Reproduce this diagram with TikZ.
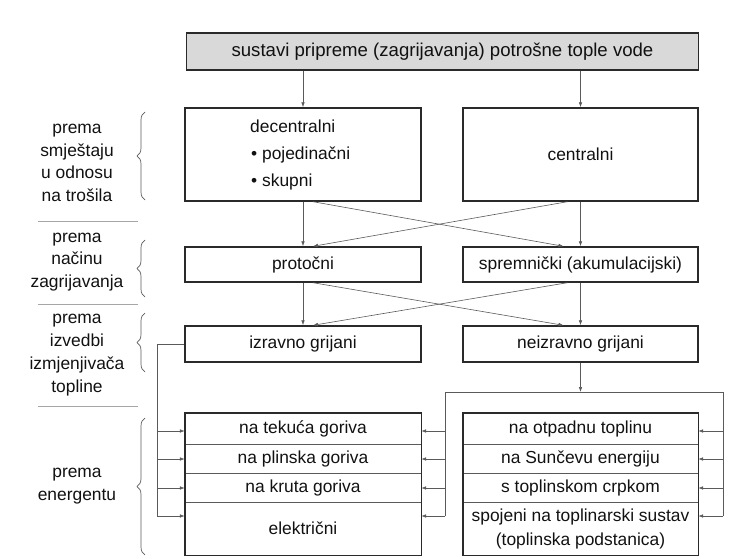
\documentclass[tikz,border=0pt]{standalone}
\usepackage{fontspec}
\setmainfont{Liberation Sans}
\usetikzlibrary{arrows.meta,calc,decorations.pathreplacing}
\definecolor{boxc}{HTML}{2A2A2A}
\definecolor{conc}{HTML}{5A5A5A}
\definecolor{topfill}{HTML}{D9D9D9}
\definecolor{txtc}{HTML}{111111}
\begin{document}
\begin{tikzpicture}[x=1pt,y=-1pt,
  txt/.style={inner sep=0pt, text=txtc, font=\fontsize{17.4}{22}\selectfont},
  box/.style={draw=boxc, line width=1.4pt, inner sep=0pt, text=txtc, font=\fontsize{17.4}{22}\selectfont, minimum width=236pt},
  rowbox/.style={inner sep=0pt, text=txtc, font=\fontsize{17.4}{22}\selectfont, minimum width=236pt, align=center},
  outer/.style={draw=boxc, line width=1.4pt},
  divider/.style={draw=conc, line width=0.6pt},
  conn/.style={draw=conc, line width=0.6pt},
  arr/.style={conn, -{Latex[length=5pt,width=3.6pt]}},
  sep/.style={draw=gray!70, line width=0.8pt},
  lab/.style={inner sep=0pt, text=txtc, align=center, font=\fontsize{17.4}{22.8}\selectfont},
  brc/.style={draw=conc, line width=0.7pt, decorate, decoration={brace, amplitude=8pt}}
]
\useasboundingbox (0,0) rectangle (747,559);

% top
\node[box, fill=topfill, minimum width=512pt, minimum height=37pt, font=\fontsize{18.6}{22}\selectfont] (top) at (442.5,51.5) {sustavi pripreme (zagrijavanja) potrošne tople vode};

% row 1
\node[box, minimum height=93pt] (dec) at (303,154.5) {};
\node[txt, anchor=base west] (dec1) at (250,133) {decentralni};
\node[txt, anchor=base west] (dec2) at (251,160) {\textbullet\ pojedinačni};
\node[txt, anchor=base west] (dec3) at (251,186) {\textbullet\ skupni};
\node[box, minimum width=235pt, minimum height=93pt] (cen) at (580.5,154.5) {centralni};

% row 2
\node[box, minimum height=35pt] (pro) at (303,264.5) {protočni};
\node[box, minimum width=235pt, minimum height=35pt] (spr) at (580.5,264.5) {spremnički (akumulacijski)};

% row 3
\node[box, minimum height=36pt] (izr) at (303,344) {izravno grijani};
\node[box, minimum width=235pt, minimum height=36pt] (nei) at (580.5,344) {neizravno grijani};

% bottom left
\node[rowbox, minimum height=31pt] (l1) at (303,428.5) {na tekuća goriva};
\node[rowbox, minimum height=29pt] (l2) at (303,458.5) {na plinska goriva};
\node[rowbox, minimum height=29pt] (l3) at (303,487.5) {na kruta goriva};
\node[rowbox, minimum height=53pt] (l4) at (303,528.5) {električni};
\draw[divider] (l1.south west) -- (l1.south east);
\draw[divider] (l2.south west) -- (l2.south east);
\draw[divider] (l3.south west) -- (l3.south east);
\draw[outer] (l1.north west) rectangle (l4.south east);

% bottom right
\node[rowbox, minimum width=235pt, minimum height=31pt] (r1) at (580.5,428.5) {na otpadnu toplinu};
\node[rowbox, minimum width=235pt, minimum height=29pt] (r2) at (580.5,458.5) {na Sunčevu energiju};
\node[rowbox, minimum width=235pt, minimum height=29pt] (r3) at (580.5,487.5) {s toplinskom crpkom};
\node[rowbox, minimum width=235pt, minimum height=53pt, font=\fontsize{17.4}{24}\selectfont] (r4) at (580.5,528.5) {spojeni na toplinarski sustav\\(toplinska podstanica)};
\draw[divider] (r1.south west) -- (r1.south east);
\draw[divider] (r2.south west) -- (r2.south east);
\draw[divider] (r3.south west) -- (r3.south east);
\draw[outer] (r1.north west) rectangle (r4.south east);

% vertical arrows
\draw[arr] (top.south -| dec.north) -- (dec.north);
\draw[arr] (top.south -| cen.north) -- (cen.north);
\draw[arr] (dec.south) -- (pro.north);
\draw[arr] (cen.south) -- (spr.north);
\draw[arr] (pro.south) -- (izr.north);
\draw[arr] (spr.south) -- (nei.north);

% crossing arrows
\draw[arr] ($(dec.south)+(10,0)$) -- ($(spr.north)+(-17,0)$);
\draw[arr] ($(cen.south)+(-13,0)$) -- ($(pro.north)+(10,0)$);
\draw[arr] ($(pro.south)+(10,0)$) -- ($(nei.north)+(-17,0)$);
\draw[arr] ($(spr.south)+(-13,0)$) -- ($(izr.north)+(10,0)$);

% bus from neizravno
\coordinate (busL) at (445,392);
\coordinate (busR) at (723,392);
\coordinate (busLb) at (445,516);
\coordinate (busRb) at (723,516);
\draw[arr] (nei.south) -- (nei.south |- busL);
\draw[conn] (busLb) -- (busL) -- (busR) -- (busRb);
\foreach \i/\yy in {1/431,2/459,3/488,4/516}{
  \coordinate (bl\i) at (445,\yy);
  \coordinate (br\i) at (723,\yy);
  \draw[arr] (bl\i) -- (bl\i -| l1.east);
  \draw[arr] (br\i) -- (br\i -| r1.east);
}

% izravno line
\coordinate (izk) at (157,344);
\coordinate (izb) at (157,516);
\draw[conn] (izr.west) -- (izk) -- (izb);
\foreach \i/\yy in {1/431,2/459,3/488,4/516}{
  \coordinate (il\i) at (157,\yy);
  \draw[arr] (il\i) -- (il\i -| l1.west);
}

% left labels
\node[lab] (g1) at (77,163) {prema\\smještaju\\u odnosu\\na trošila};
\node[lab] (g2) at (77,262) {prema\\načinu\\zagrijavanja};
\node[lab] (g3) at (77,355) {prema\\izvedbi\\izmjenjivača\\topline};
\node[lab] (g4) at (77,486) {prema\\energentu};

% braces
\draw[brc] (145,200) -- (145,112);
\draw[brc] (145,297) -- (145,240);
\draw[brc] (145,372) -- (145,313);
\draw[brc] (145,555) -- (145,418);

% separators
\draw[sep] (38,221) -- (138,221);
\draw[sep] (38,304) -- (138,304);
\draw[sep] (38,406) -- (138,406);
\end{tikzpicture}
\end{document}
